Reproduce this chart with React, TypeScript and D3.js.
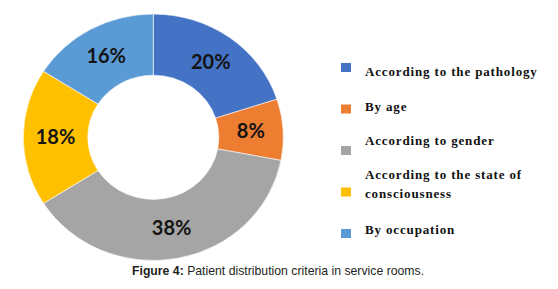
import React from "react";
import * as d3 from "d3";

const categories = [
  "According to the pathology",
  "By age",
  "According to gender",
  "According to the state of consciousness",
  "By occupation",
];
const values = [20, 8, 38, 18, 16];
const colors = ["#4472C4", "#ED7D31", "#A5A5A5", "#FFC000", "#5B9BD5"];
const legendLines = [
  ["According to the pathology"],
  ["By age"],
  ["According to gender"],
  ["According to the state of", "consciousness"],
  ["By occupation"],
];
const caption = { bold: "Figure 4:", rest: " Patient distribution criteria in service rooms." };

export default function App() {
  const W = 558, H = 289;
  const cx = 153.3, cy = 137.3, outerR = 130, innerR = 65.5, squash = 0.948;
  const data = categories.map((c, i) => ({ c, v: values[i], color: colors[i] }));
  const pie = d3.pie<any>().value((d) => d.v).sort(null);
  const arcs = pie(data);
  const arc = d3.arc<any>().innerRadius(innerR).outerRadius(outerR);
  const labelArc = d3.arc<any>().innerRadius((innerR + outerR) / 2).outerRadius((innerR + outerR) / 2);

  const legendY = d3.scaleLinear().domain([0, 4]).range([63, 229]);
  const textBase = [75.5, 111, 144.5, 179, 233.5];

  return (
    <svg width={W} height={H} style={{ position: "absolute", left: 0, top: 0, background: "#fff" }}>
      <g transform={`translate(${cx},${cy}) scale(1,${squash})`}>
        {arcs.map((a, i) => (
          <path key={i} d={arc(a) as string} fill={a.data.color} stroke="#fff" strokeWidth={0.6} />
        ))}
      </g>
      {arcs.map((a, i) => {
        const [x, y] = labelArc.centroid(a);
        return (
          <text
            key={i}
            x={cx + x}
            y={cy + y * squash}
            dy="0.35em"
            textAnchor="middle"
            fontFamily="Lato, 'Noto Sans', sans-serif"
            fontWeight="bold"
            fontSize={20}
            fill="#141414"
          >
            {a.data.v}%
          </text>
        );
      })}
      {data.map((d, i) => (
        <g key={i}>
          <rect x={341} y={legendY(i)} width={10} height={9} fill={d.color} />
          {legendLines[i].map((ln, j) => (
            <text
              key={j}
              x={365}
              y={i === 3 ? textBase[i] + j * 18.5 : textBase[i]}
              fontFamily="'Liberation Serif', 'Times New Roman', serif"
              fontWeight="bold"
              fontSize={13}
              fill="#111"
              letterSpacing={0.85}
            >
              {ln}
            </text>
          ))}
        </g>
      ))}
      <text x={132} y={274.5} fontFamily="'Liberation Sans', Arial, sans-serif" fontSize={12.25} fill="#231f20">
        <tspan fontWeight="bold">{caption.bold}</tspan>
        <tspan>{caption.rest}</tspan>
      </text>
    </svg>
  );
}
